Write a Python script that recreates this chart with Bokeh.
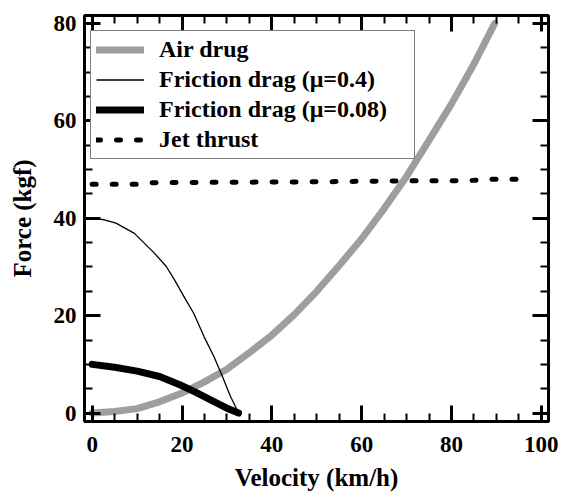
from bokeh.plotting import figure
from bokeh.models import Range1d, LinearAxis, FixedTicker, Legend, LegendItem
from bokeh.embed import file_html
from bokeh.resources import INLINE

# ---- data ----
air_v = [0, 5, 10, 15, 20, 25, 30, 35, 40, 45, 50, 55, 60, 65, 70, 75, 80, 85, 89.6]
air_f = [0, 0.3, 0.9, 2.3, 4.1, 6.4, 9.0, 12.4, 16.0, 20.2, 25.0, 30.3, 35.8, 42.0, 48.6, 56.0, 63.5, 71.7, 80.0]

fr04_v = [0, 2.7, 5.3, 9.4, 13.9, 16.5, 18.3, 20.5, 22.6, 24.9, 27.1, 29.0, 30.8, 32.6]
fr04_f = [40, 39.7, 39.0, 36.9, 32.8, 30.1, 27.4, 23.8, 20.5, 15.7, 11.6, 7.5, 3.4, 0]

fr008_v = [0, 5, 10, 15, 19.5, 23, 27, 30, 32.6]
fr008_f = [10, 9.4, 8.6, 7.5, 5.8, 4.3, 2.4, 1.0, 0]

jet_v = [0, 10, 12, 30, 50, 60, 70, 80, 85, 88, 97]
jet_f = [47.0, 47.0, 47.3, 47.4, 47.5, 47.6, 47.7, 47.7, 47.8, 48.0, 48.0]

x_major = [0, 20, 40, 60, 80, 100]
x_minor = list(range(0, 101, 5))
y_major = [0, 20, 40, 60, 80]
y_minor = list(range(0, 81, 5))

labels = ["Air drug", "Friction drag (\u03bc=0.4)", "Friction drag (\u03bc=0.08)", "Jet thrust"]

FONT = "Liberation Serif"

p = figure(width=562, height=493, output_backend="svg", toolbar_location=None,
           x_range=Range1d(-1.71, 101.6), y_range=Range1d(-1.74, 81.66),
           min_border_left=84, min_border_right=14, min_border_top=15, min_border_bottom=71,
           x_axis_location=None, y_axis_location=None)
p.grid.grid_line_color = None
p.outline_line_color = "black"
p.outline_line_width = 3
p.background_fill_color = "white"
p.border_fill_color = "white"


def make_axis(major, minor, show_labels, label=None):
    ax = LinearAxis(ticker=FixedTicker(ticks=major, minor_ticks=minor))
    ax.axis_line_color = None
    ax.major_tick_in = 16
    ax.major_tick_out = 0
    ax.major_tick_line_width = 3
    ax.major_tick_line_color = "black"
    ax.minor_tick_in = 8
    ax.minor_tick_out = 0
    ax.minor_tick_line_width = 2
    ax.minor_tick_line_color = "black"
    if show_labels:
        ax.major_label_text_font = FONT
        ax.major_label_text_font_style = "bold"
        ax.major_label_text_font_size = "23px"
        ax.major_label_text_color = "black"
    else:
        ax.major_label_text_font_size = "1px"
        ax.major_label_text_color = None
        ax.major_label_text_alpha = 0
        ax.major_label_standoff = 0
    if label:
        ax.axis_label = label
        ax.axis_label_text_font = FONT
        ax.axis_label_text_font_style = "bold"
        ax.axis_label_text_font_size = "25px"
        ax.axis_label_text_color = "black"
    return ax


bottom = make_axis(x_major, x_minor, True, "Velocity (km/h)")
bottom.major_label_standoff = 15
bottom.axis_label_standoff = 9
left = make_axis(y_major, y_minor, True, "Force (kgf)")
left.major_label_standoff = 8
left.axis_label_standoff = 15
top = make_axis(x_major, x_minor, False)
right = make_axis(y_major, y_minor, False)

p.add_layout(bottom, "below")
p.add_layout(left, "left")
p.add_layout(top, "above")
p.add_layout(right, "right")

r_air = p.line(air_v, air_f, line_color="#9e9e9e", line_width=7, line_cap="round", line_join="round")
r_04 = p.line(fr04_v, fr04_f, line_color="black", line_width=1.3, line_join="round")
r_008 = p.line(fr008_v, fr008_f, line_color="black", line_width=7, line_cap="round", line_join="round")
r_jet = p.line(jet_v, jet_f, line_color="black", line_width=5, line_dash="4 16", line_cap="round")

legend = Legend(items=[LegendItem(label=labels[0], renderers=[r_air]),
                       LegendItem(label=labels[1], renderers=[r_04]),
                       LegendItem(label=labels[2], renderers=[r_008]),
                       LegendItem(label=labels[3], renderers=[r_jet])],
                location=(6, 262))
legend.label_text_font = FONT
legend.label_text_font_style = "bold"
legend.label_text_font_size = "24px"
legend.label_text_color = "black"
legend.border_line_color = "black"
legend.border_line_width = 1.5
legend.background_fill_color = "white"
legend.background_fill_alpha = 1
legend.glyph_width = 48
legend.glyph_height = 27
legend.label_height = 27
legend.label_width = 250
legend.spacing = 3
legend.padding = 5
legend.label_standoff = 15
legend.margin = 0
p.add_layout(legend)

open("out.html", "w").write(file_html(p, INLINE))
